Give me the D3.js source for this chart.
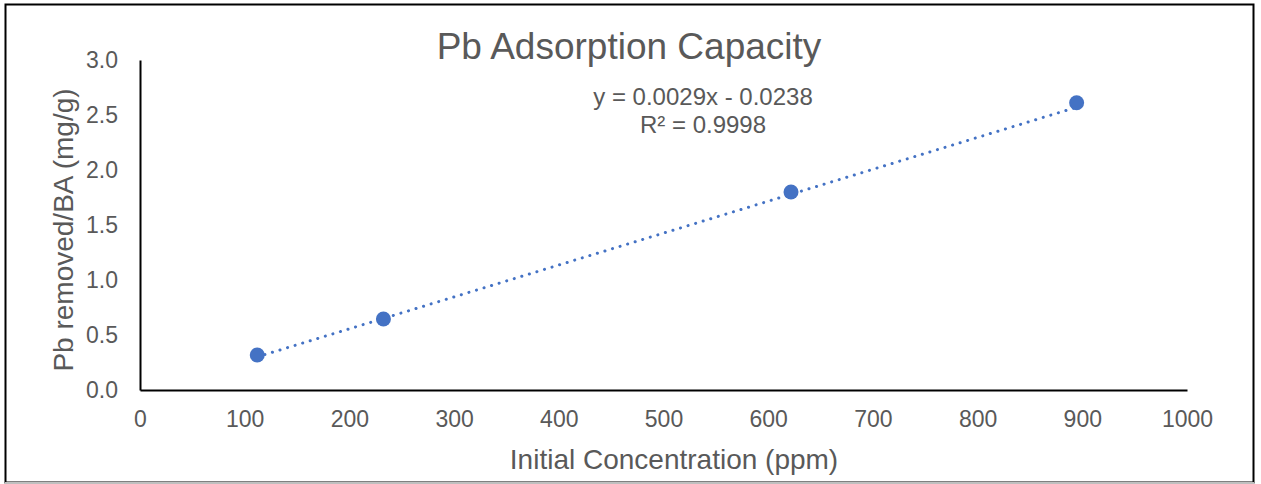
<!DOCTYPE html>
<html>
<head>
<meta charset="utf-8">
<script src="https://cdn.jsdelivr.net/npm/d3@7"></script>
<style>
  body { margin: 0; background: #fff; }
  svg { display: block; font-family: "Liberation Sans", Arial, sans-serif; }
</style>
</head>
<body>
<div id="chart"></div>
<script>
// data
const concentrations = [112, 232.5, 621.8, 894.6];
const removed = [0.318, 0.645, 1.80, 2.612];
const xTicks = [0, 100, 200, 300, 400, 500, 600, 700, 800, 900, 1000];
const yTicks = [0, 0.5, 1.0, 1.5, 2.0, 2.5, 3.0];
const trendSlope = 0.0029;
const trendIntercept = -0.0238;
const trendLabels = ['y = 0.0029x - 0.0238', 'R² = 0.9998'];

const width = 1261, height = 484;
const textColor = '#595959';
const blue = '#4472c4';

const svg = d3.select('#chart').append('svg')
    .attr('width', width)
    .attr('height', height);

// outer frame
svg.append('rect')
    .attr('x', 5.5).attr('y', 4.5)
    .attr('width', 1248).attr('height', 478)
    .attr('fill', 'none')
    .attr('stroke', '#000')
    .attr('stroke-width', 2);
svg.append('line')
    .attr('x1', 5).attr('x2', 1254)
    .attr('y1', 483).attr('y2', 483)
    .attr('stroke', '#bfbfbf').attr('stroke-width', 2);

const x = d3.scaleLinear().domain([0, 1000]).range([140, 1187]);
const y = d3.scaleLinear().domain([0, 3]).range([390, 60]);

// axes
const xAxis = svg.append('g')
    .attr('transform', `translate(0,${y(0)})`)
    .call(d3.axisBottom(x).tickValues(xTicks).tickSize(0).tickPadding(21).tickFormat(d3.format('d')));
const yAxis = svg.append('g')
    .attr('transform', `translate(${x(0)},0)`)
    .call(d3.axisLeft(y).tickValues(yTicks).tickSize(0).tickPadding(22).tickFormat(d3.format('.1f')));

[xAxis, yAxis].forEach(g => {
    g.select('.domain').attr('stroke', '#000').attr('stroke-width', 2);
    g.selectAll('text')
        .attr('fill', textColor)
        .style('font-size', '23px')
        .style('font-family', '"Liberation Sans", Arial, sans-serif');
});

// trendline (dotted)
const xExt = d3.extent(concentrations);
svg.append('line')
    .attr('x1', x(xExt[0])).attr('y1', y(trendSlope * xExt[0] + trendIntercept))
    .attr('x2', x(xExt[1])).attr('y2', y(trendSlope * xExt[1] + trendIntercept))
    .attr('stroke', blue)
    .attr('stroke-width', 3)
    .attr('stroke-linecap', 'round')
    .attr('stroke-dasharray', '0.1 7.8');

// points
svg.selectAll('circle.pt')
    .data(concentrations)
    .join('circle')
    .attr('class', 'pt')
    .attr('cx', d => x(d))
    .attr('cy', (d, i) => y(removed[i]))
    .attr('r', 7.5)
    .attr('fill', blue);

// title
svg.append('text')
    .attr('x', 629).attr('y', 59)
    .attr('text-anchor', 'middle')
    .attr('fill', textColor)
    .style('font-size', '37px')
    .text('Pb Adsorption Capacity');

// equation label
svg.selectAll('text.eq')
    .data(trendLabels)
    .join('text')
    .attr('class', 'eq')
    .attr('x', 703)
    .attr('y', (d, i) => 105 + i * 28)
    .attr('text-anchor', 'middle')
    .attr('fill', textColor)
    .style('font-size', '24px')
    .text(d => d);

// axis titles
svg.append('text')
    .attr('x', 674).attr('y', 469)
    .attr('text-anchor', 'middle')
    .attr('fill', textColor)
    .style('font-size', '28px')
    .text('Initial Concentration (ppm)');

svg.append('text')
    .attr('transform', 'translate(73,230) rotate(-90)')
    .attr('text-anchor', 'middle')
    .attr('fill', textColor)
    .style('font-size', '28px')
    .text('Pb removed/BA (mg/g)');
</script>
</body>
</html>
